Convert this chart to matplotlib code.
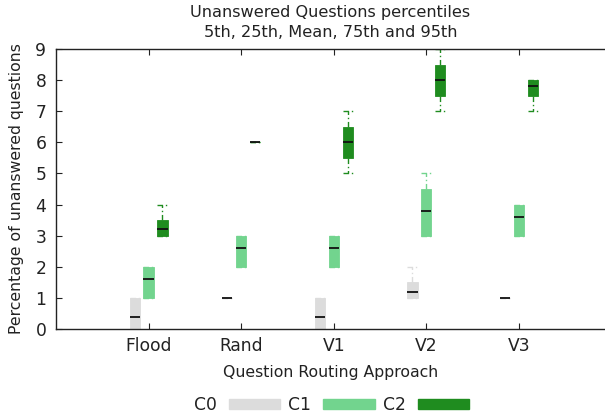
import matplotlib
matplotlib.use('Agg')
import matplotlib.pyplot as plt
from matplotlib.patches import Patch

# percentile summary per routing approach and class
approaches = ['Flood', 'Rand', 'V1', 'V2', 'V3']
classes = ['C0', 'C1', 'C2']
colors = ['#dcdcdc', '#72d48e', '#1f8c1f']

# 5th, 25th, mean, 75th, 95th
c0_p5 = [0, 1, 0, 1, 1]
c0_p25 = [0, 1, 0, 1, 1]
c0_mean = [0.4, 1, 0.4, 1.2, 1]
c0_p75 = [1, 1, 1, 1.5, 1]
c0_p95 = [1, 1, 1, 2, 1]

c1_p5 = [1, 2, 2, 3, 3]
c1_p25 = [1, 2, 2, 3, 3]
c1_mean = [1.6, 2.6, 2.6, 3.8, 3.6]
c1_p75 = [2, 3, 3, 4.5, 4]
c1_p95 = [2, 3, 3, 5, 4]

c2_p5 = [3, 6, 5, 7, 7]
c2_p25 = [3, 6, 5.5, 7.5, 7.5]
c2_mean = [3.2, 6, 6, 8, 7.8]
c2_p75 = [3.5, 6, 6.5, 8.5, 8]
c2_p95 = [4, 6, 7, 9, 8]

series = [
    (c0_p5, c0_p25, c0_mean, c0_p75, c0_p95),
    (c1_p5, c1_p25, c1_mean, c1_p75, c1_p95),
    (c2_p5, c2_p25, c2_mean, c2_p75, c2_p95),
]
offsets = [-0.15, 0.0, 0.15]

plt.rcParams['font.family'] = 'DejaVu Sans'
plt.rcParams['font.size'] = 11.3
plt.rcParams['text.color'] = '#222222'
plt.rcParams['axes.labelcolor'] = '#222222'
plt.rcParams['xtick.color'] = '#222222'
plt.rcParams['ytick.color'] = '#222222'

fig = plt.figure(figsize=(6.05, 4.15), dpi=100)
ax = fig.add_axes([56 / 605, 1 - 329 / 415, 1 - 56 / 605, 280 / 415])

for (p5, p25, mean, p75, p95), off, col in zip(series, offsets, colors):
    stats = []
    for i in range(len(approaches)):
        stats.append({'whislo': p5[i], 'q1': p25[i], 'med': mean[i],
                      'q3': p75[i], 'whishi': p95[i], 'fliers': []})
    pos = [i + 1 + off for i in range(len(approaches))]
    ax.bxp(stats, positions=pos, widths=0.11, patch_artist=True,
           showfliers=False, manage_ticks=False,
           boxprops=dict(facecolor=col, edgecolor=col, linewidth=0.6),
           medianprops=dict(color='#111111', linewidth=1.3),
           whiskerprops=dict(color=col, linewidth=1.0, linestyle=(0, (4, 2, 1, 2))),
           capprops=dict(color=col, linewidth=1.0, linestyle=(0, (4, 2, 1, 2))),
           capwidths=0.11)

ax.set_xlim(0, 5.93)
ax.set_ylim(0, 9)
ax.set_xticks(range(1, len(approaches) + 1))
ax.set_xticklabels(approaches)
ax.set_yticks(range(0, 10))
ax.tick_params(axis='x', direction='in', top=True, length=4, pad=6, labelsize=12.3)
ax.tick_params(axis='y', direction='in', length=4, pad=7, labelsize=12.3)
ax.spines['right'].set_visible(False)
for s in ['left', 'bottom', 'top']:
    ax.spines[s].set_linewidth(1.0)
    ax.spines[s].set_color('#222222')

ax.set_xlabel('Question Routing Approach', labelpad=7)
ax.set_ylabel('Percentage of unanswered questions', labelpad=8)
ax.set_title('Unanswered Questions percentiles\n5th, 25th, Mean, 75th and 95th',
             fontsize=11.6, pad=9, linespacing=1.35)

handles = [Patch(facecolor=c, edgecolor=c) for c in colors]
fig.legend(handles, classes, loc='lower center', bbox_to_anchor=(0.548, -0.035),
           ncol=3, frameon=False, fontsize=12.3, handlelength=3.0, handleheight=0.55,
           handletextpad=0.7, columnspacing=0.5, markerfirst=False)

fig.savefig('out.png', dpi=100)
